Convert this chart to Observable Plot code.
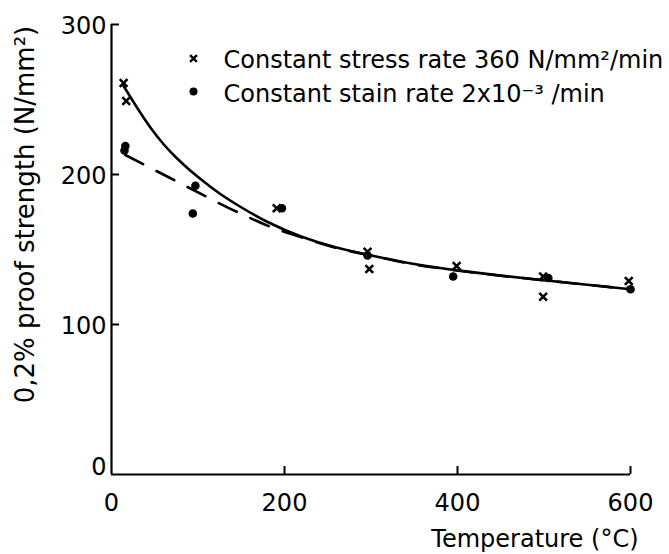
<!DOCTYPE html>
<html><head><meta charset="utf-8">
<script src="https://cdn.jsdelivr.net/npm/d3@7"></script>
<script src="https://cdn.jsdelivr.net/npm/@observablehq/plot@0.6"></script>
<style>body{margin:0;background:#fff} svg{display:block}</style>
</head><body><div id="chart"></div>
<script>
// Data
const stressTemp = [14, 17, 191, 296, 298, 399, 499, 499, 598];
const stressVal  = [261, 249, 177.5, 148.5, 137, 139, 132, 118.5, 129];
const strainTemp = [15, 16, 94, 97, 197, 296, 395, 505, 600];
const strainVal  = [216, 219, 174, 192.5, 177.5, 146, 132, 131, 123.5];

// Solid fitted curve (stress rate)
const solidTemp = [14, 30, 45, 60, 75, 90, 105, 125, 150, 180, 220, 260, 300, 350, 400, 450, 500, 550, 600];
const solidVal  = [259, 244, 231, 220, 211, 203, 196, 187, 178, 168, 158, 151, 146, 140, 136, 132.5, 129.5, 126.5, 123.5];
// Dashed fitted curve (strain rate)
const dashTemp = [16, 70, 149, 180, 220, 260, 300, 350, 400, 450, 500, 550, 600];
const dashVal  = [213, 197, 174, 166, 158, 151, 146, 140, 136, 132.5, 129.5, 126.5, 123.5];

const xTicks = [0, 200, 400, 600];
const yTicks = [0, 100, 200, 300];
const legendLabels = ["Constant stress rate 360 N/mm²/min", "Constant stain rate 2x10⁻³ /min"];
const xLabel = "Temperature (°C)";
const yLabel = "0,2% proof strength (N/mm²)";

const stress = stressTemp.map((t, i) => ({t, v: stressVal[i]}));
const strain = strainTemp.map((t, i) => ({t, v: strainVal[i]}));
const solid = solidTemp.map((t, i) => ({t, v: solidVal[i]}));
const dashed = dashTemp.map((t, i) => ({t, v: dashVal[i]}));

const font = "DejaVu Sans, Verdana, sans-serif";
const W = 669, H = 554;
const mL = 111, mR = 39, mT = 24, mB = 80;
const plotH = H - mT - mB;

const chart = Plot.plot({
  width: W, height: H,
  marginLeft: mL, marginRight: mR, marginTop: mT, marginBottom: mB,
  style: {fontFamily: font, background: "#fff", color: "#000", overflow: "visible"},
  x: {domain: [0, 600], axis: null},
  y: {domain: [0, 300], axis: null},
  marks: [
    // tick labels
    Plot.axisX(xTicks, {tickSize: 0, tickPadding: 19, fontSize: 24, label: null}),
    Plot.axisY(yTicks.filter(d => d !== 0), {tickSize: 0, tickPadding: 5, fontSize: 24, dy: 2, label: null}),
    Plot.axisY([0], {tickSize: 0, tickPadding: 5, fontSize: 24, dy: -7, label: null}),
    // inward tick marks
    Plot.tickX(xTicks.filter(d => d !== 0), {x: d => d, stroke: "#000", strokeWidth: 2, insetTop: plotH - 8}),
    Plot.tickY(yTicks.filter(d => d !== 0), {y: d => d, stroke: "#000", strokeWidth: 2, insetRight: (W - mL - mR) - 8}),
    // axis lines
    Plot.ruleX([0], {stroke: "#000", strokeWidth: 2.2}),
    Plot.ruleY([0], {stroke: "#000", strokeWidth: 2.2}),
    // fitted lines
    Plot.line(dashed, {x: "t", y: "v", curve: "monotone-x", stroke: "#000", strokeWidth: 2.6, strokeDasharray: "20,15"}),
    Plot.line(solid, {x: "t", y: "v", curve: "basis", stroke: "#000", strokeWidth: 2.6}),
    // data points
    Plot.dot(strain, {x: "t", y: "v", r: 4.3, fill: "#000", stroke: "none"}),
    Plot.dot(stress, {x: "t", y: "v", symbol: "times", r: 3.6, stroke: "#000", strokeWidth: 2.6}),
    // legend
    Plot.dot([legendLabels[0]], {frameAnchor: "top-left", dx: 82, dy: 34, symbol: "times", r: 3.2, stroke: "#000", strokeWidth: 2.4}),
    Plot.dot([legendLabels[1]], {frameAnchor: "top-left", dx: 82, dy: 67, r: 4, fill: "#000", stroke: "none"}),
    Plot.text([legendLabels[0]], {text: d => d, frameAnchor: "top-left", dx: 112, dy: 36, textAnchor: "start", lineAnchor: "middle", fontSize: 24, fill: "#000"}),
    Plot.text([legendLabels[1]], {text: d => d, frameAnchor: "top-left", dx: 112, dy: 70, textAnchor: "start", lineAnchor: "middle", fontSize: 24, fill: "#000"}),
    // axis titles
    Plot.text([xLabel], {text: d => d, frameAnchor: "bottom-right", dx: 8, dy: 72, textAnchor: "end", lineAnchor: "bottom", fontSize: 24, fill: "#000"}),
    Plot.text([yLabel], {text: d => d, frameAnchor: "left", rotate: -90, dx: -86, dy: -35, textAnchor: "middle", lineAnchor: "middle", fontSize: 26, fill: "#000"})
  ]
});
document.getElementById("chart").appendChild(chart);
</script>
</body></html>
